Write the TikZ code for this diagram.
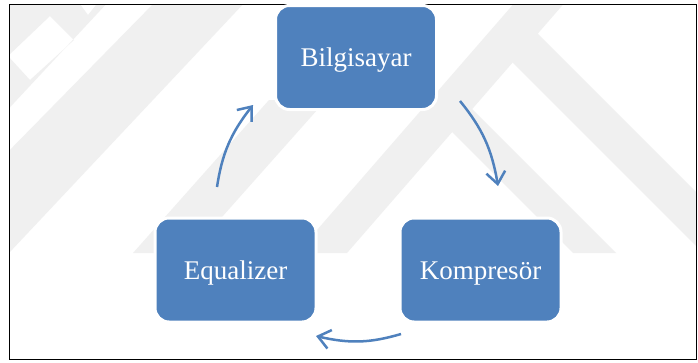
\documentclass[tikz,border=0pt]{standalone}
\usepackage{fontspec}
\setmainfont{Liberation Serif}
\usetikzlibrary{arrows.meta,bending}
\definecolor{boxblue}{HTML}{4F81BD}
\definecolor{wm}{HTML}{F0F0F0}
\begin{document}
\begin{tikzpicture}[x=1pt,y=-1pt,
  stage/.style={rectangle, rounded corners=14pt, fill=boxblue, draw=white,
    line width=3pt, minimum width=161pt, minimum height=104pt, inner sep=0pt,
    text=white, font=\fontsize{27}{32}\selectfont, text height=18pt, text depth=0pt},
  cyc/.style={draw=boxblue, line width=2.5pt,
    -{Straight Barb[length=12pt,width=19pt]}, bend left=15},
  wmark/.style={fill=wm}]
\useasboundingbox (0,0) rectangle (698,362);
\fill[white] (0,0) rectangle (698,362);
% faint watermark
\begin{scope}
  \clip (9,4) rectangle (697,359);
  % top-left piece with white openings
  \fill[wmark, even odd rule] (0,0) -- (110,0) -- (0,118) -- cycle
    (30,80) -- (74,40) -- (50,16) -- (8,56) -- cycle
    (77,0) -- (100,0) -- (88,15) -- cycle;
  % left bands
  \fill[wmark] (157,0) -- (247,0) -- (9,253) -- (0,253) -- (0,160) -- cycle;
  \fill[wmark] (269,100) -- (326,100) -- (190,253) -- (133,253) -- cycle;
  % central and right bands
  \fill[wmark] (517,0) -- (567,0) -- (347,253) -- (297,253) -- cycle;
  \fill[wmark] (524,20) -- (757,253) -- (703,253) -- (500,50) -- cycle;
  \fill[wmark] (420,100) -- (463,100) -- (616,253) -- (573,253) -- cycle;
\end{scope}
\draw[line width=1.8pt] (9.5,4.5) rectangle (696.5,359.5);
% stages
\node[stage] (bil) at (356,57.5) {Bilgisayar};
\node[stage] (kom) at (480.5,270) {Kompresör};
\node[stage] (equ) at (235.5,270) {Equalizer};
% arrow end points
\coordinate (a1s) at (460,101);
\coordinate (a1e) at (498,186);
\coordinate (a2s) at (401,334);
\coordinate (a2e) at (316,336);
\coordinate (a3s) at (217,187);
\coordinate (a3e) at (253,105);
\draw[cyc] (a1s) to (a1e);
\draw[cyc] (a2s) to (a2e);
\draw[cyc] (a3s) to (a3e);
\end{tikzpicture}
\end{document}
